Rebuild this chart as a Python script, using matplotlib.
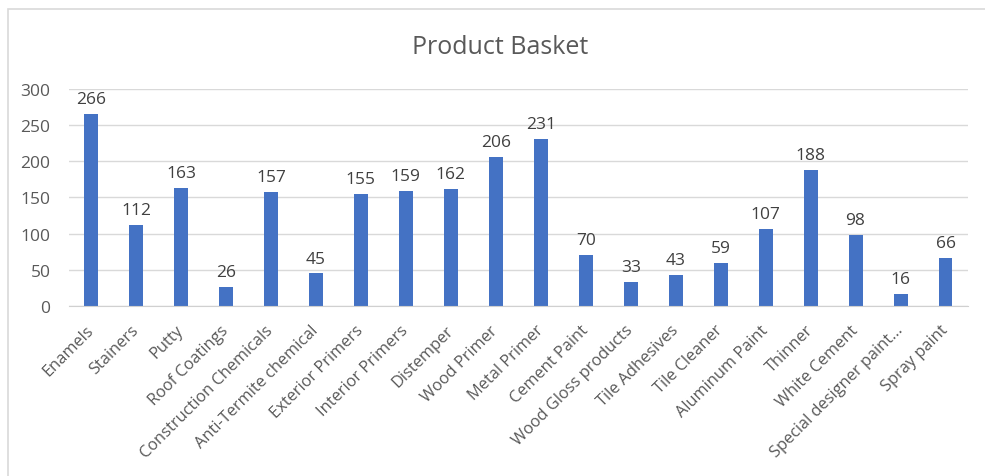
import matplotlib
matplotlib.use("Agg")
import matplotlib.pyplot as plt
from matplotlib.patches import Rectangle

categories = ["Enamels", "Stainers", "Putty", "Roof Coatings", "Construction Chemicals",
              "Anti-Termite chemical", "Exterior Primers", "Interior Primers", "Distemper",
              "Wood Primer", "Metal Primer", "Cement Paint", "Wood Gloss products",
              "Tile Adhesives", "Tile Cleaner", "Aluminum Paint", "Thinner", "White Cement",
              "Special designer paint\u2026", "Spray paint"]
values = [266, 112, 163, 26, 157, 45, 155, 159, 162, 206, 231, 70, 33, 43, 59, 107, 188, 98, 16, 66]
yticks = [0, 50, 100, 150, 200, 250, 300]

plt.rcParams['font.family'] = ['Open Sans', 'DejaVu Sans']

W, H = 985, 477
fig = plt.figure(figsize=(W/100, H/100), dpi=100)
fig.patch.set_facecolor('white')
# outer chart border
fig.patches.append(Rectangle((8/W, -0.1), 1.2, 1.1 - 10/H, transform=fig.transFigure,
                             fill=False, edgecolor='#d9d9d9', linewidth=1.2, zorder=0))

left, right = 68.5, 968
bottom, top = 307, 90
ax = fig.add_axes([left/W, 1 - bottom/H, (right-left)/W, (bottom-top)/H])
x = list(range(len(categories)))
ax.bar(x, values, width=0.31, color='#4472c4', zorder=3)
ax.set_xlim(-0.5, len(categories) - 0.5)
ax.set_ylim(0, 300)
ax.set_yticks(yticks)
ax.set_yticklabels([str(t) for t in yticks], fontsize=12.5, color='#595959')
ax.tick_params(axis='y', length=0, pad=13)
ax.tick_params(axis='x', length=0, pad=15.5)
ax.grid(axis='y', color='#d9d9d9', linewidth=1, zorder=0)
for s in ['top', 'right', 'left']:
    ax.spines[s].set_visible(False)
ax.spines['bottom'].set_color('#d0d0d0')
ax.spines['bottom'].set_zorder(4)
ax.set_xticks(x)
ax.set_xticklabels(categories, rotation=45, ha='right', va='center', rotation_mode='anchor',
                   fontsize=11.8, color='#595959')
for xi, v in zip(x, values):
    ax.annotate(str(v), (xi, v), xytext=(0, 5), textcoords='offset points',
                ha='center', va='bottom', fontsize=12.5, color='#404040')
fig.text(500/W, 1 - 48/H, "Product Basket", ha='center', va='center', fontsize=18, color='#595959')
fig.savefig('out.png', dpi=100)
